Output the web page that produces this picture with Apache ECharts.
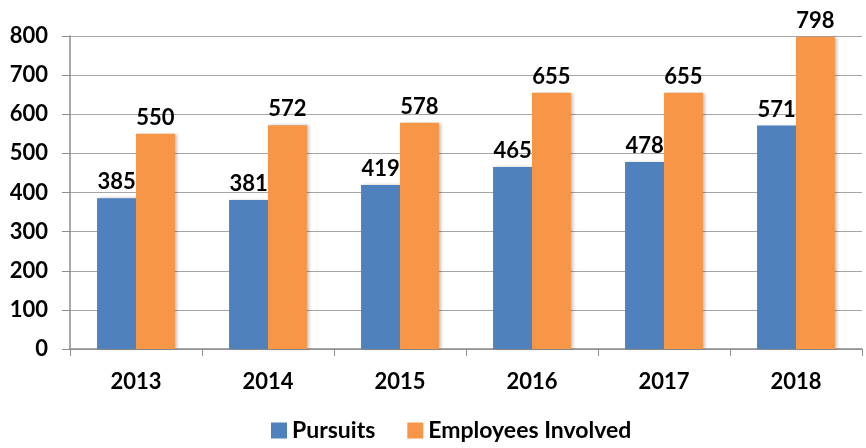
<!DOCTYPE html>
<html>
<head>
<meta charset="utf-8">
<script src="https://cdn.jsdelivr.net/npm/echarts@6/dist/echarts.min.js"></script>
<style>
  html, body { margin: 0; padding: 0; background: #fff; }
  #chart { width: 866px; height: 448px; }
</style>
</head>
<body>
<div id="chart"></div>
<script>
var years = ["2013", "2014", "2015", "2016", "2017", "2018"];
var pursuits = [385, 381, 419, 465, 478, 571];
var employees = [550, 572, 578, 655, 655, 798];
var seriesNames = ["Pursuits", "Employees Involved"];

var chart = echarts.init(document.getElementById("chart"));
var font = "Lato, 'Open Sans', sans-serif";

var labelStyle = {
    show: true,
    position: "top",
    distance: 5,
    color: "#000",
    fontFamily: font,
    fontWeight: "bold",
    fontSize: 22
};

chart.setOption({
    animation: false,
    textStyle: { fontFamily: font },
    grid: { left: 70, right: 4, top: 36, bottom: 99 },
    legend: {
        bottom: 1,
        left: 266,
        itemWidth: 16,
        itemHeight: 16,
        itemGap: 32,
        icon: "rect",
        textStyle: { fontFamily: font, fontWeight: "bold", fontSize: 23, color: "#000" },
        data: seriesNames
    },
    xAxis: {
        type: "category",
        data: years,
        axisLine: { lineStyle: { color: "#8c8c8c", width: 1.5 } },
        axisTick: { show: true, length: 7, lineStyle: { color: "#8c8c8c" } },
        axisLabel: { margin: 22, color: "#000", fontWeight: "bold", fontSize: 22, fontFamily: font }
    },
    yAxis: {
        type: "value",
        min: 0,
        max: 800,
        interval: 100,
        axisLine: { show: true, lineStyle: { color: "#8c8c8c", width: 1.5 } },
        axisTick: { show: true, length: 8, lineStyle: { color: "#8c8c8c" } },
        axisLabel: { margin: 22, color: "#000", fontWeight: "bold", fontSize: 22, fontFamily: font },
        splitLine: { lineStyle: { color: "#a6a6a6", width: 1.2 } }
    },
    series: [
        {
            name: seriesNames[0],
            type: "bar",
            data: pursuits,
            barWidth: "29.5%",
            barGap: "0%",
            itemStyle: { color: "#4f81bd", shadowColor: "rgba(0,0,0,0.25)", shadowBlur: 3, shadowOffsetX: 2 },
            label: labelStyle
        },
        {
            name: seriesNames[1],
            type: "bar",
            data: employees,
            barWidth: "29.5%",
            itemStyle: { color: "#f79646", shadowColor: "rgba(0,0,0,0.25)", shadowBlur: 3, shadowOffsetX: 2 },
            label: labelStyle
        }
    ]
});
</script>
</body>
</html>
